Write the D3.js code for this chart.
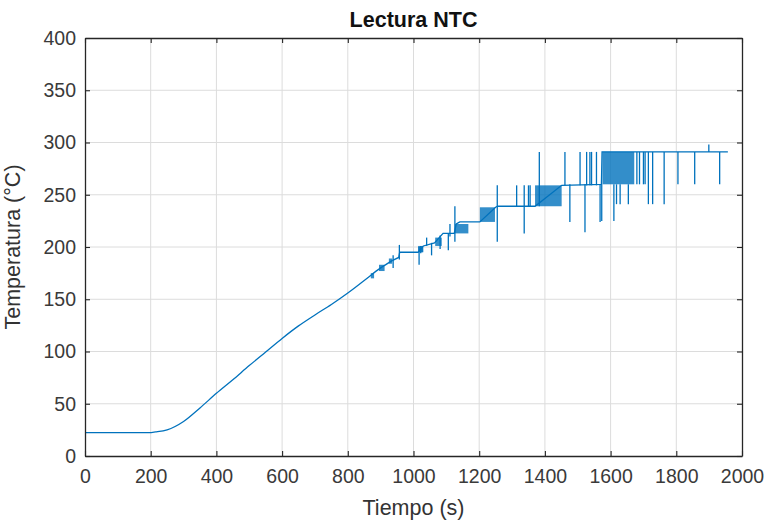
<!DOCTYPE html>
<html>
<head>
<meta charset="utf-8">
<script src="https://cdn.jsdelivr.net/npm/d3@7"></script>
<style>
	body { margin: 0; background: #fff; }
	text { font-family: Arial, "Liberation Sans", Helvetica, sans-serif; }
</style>
</head>
<body>
<svg id="chart" width="766" height="522"></svg>
<script>
// Warm-up part of the NTC reading (time in s, temperature in °C), smooth
var rampTime = [0, 195, 215, 250, 300, 350, 400, 450, 500, 550, 600, 650, 700, 750, 800, 850, 900, 935];
var rampTemp = [22.3, 22.3, 23, 25, 33, 46, 60, 73, 86.5, 99.5, 112.5, 124.5, 135, 145, 156, 168, 180, 187];

// Later part, where the ADC steps between quantised levels
var stepTime = [935, 955, 958, 1014, 1030, 1064, 1090, 1124, 1130, 1141, 1202, 1250, 1256, 1370, 1451, 1572, 1574, 1957];
var stepTemp = [187, 190, 195, 195, 201, 204, 213, 213, 222, 224, 224, 238, 239, 239, 259, 260, 291, 291];

// Single reading glitches, drawn as vertical strokes
var spikeTime = [938, 957, 1017, 1022, 1026, 1040, 1055, 1081, 1106, 1111, 1126, 1255, 1314, 1337, 1350, 1355,
	1383, 1461, 1476, 1507, 1522, 1527, 1537, 1542, 1557, 1568, 1573, 1610, 1618, 1629, 1654, 1680, 1688,
	1700, 1705, 1715, 1728, 1763, 1805, 1856, 1899, 1932];
var spikeLow = [180, 188, 183, 194, 195, 201, 192, 198, 197, 210, 205, 205, 239, 213, 239, 239,
	239, 259, 224, 259, 214, 259, 259, 259, 259, 224, 225, 225, 241, 241, 241, 260, 260,
	260, 260, 241, 241, 241, 260, 260, 291, 260];
var spikeHigh = [192, 202, 200, 201, 201, 209, 204, 211, 213, 222, 239, 259, 259, 259, 259, 259,
	291, 291, 260, 291, 260, 291, 291, 291, 291, 260, 260, 260, 260, 260, 260, 291, 291,
	291, 291, 291, 291, 291, 291, 291, 298, 291];

// Stretches where the reading toggles so fast the trace fills in
var bandStart = [870, 895, 925, 1014, 1066, 1126, 1202, 1370, 1575];
var bandEnd = [880, 912, 935, 1030, 1086, 1167, 1248, 1451, 1672];
var bandLow = [170, 177, 184, 195, 201, 213, 224, 239, 260];
var bandHigh = [175, 183, 189, 201, 209, 222, 238, 259, 291];

var xTicks = [0, 200, 400, 600, 800, 1000, 1200, 1400, 1600, 1800, 2000];
var yTicks = [0, 50, 100, 150, 200, 250, 300, 350, 400];

var LINE = '#0072bd';
var AXIS = '#262626';

function main() {
	var svg = d3.select('#chart');
	var margin = {left: 85, right: 766 - 742, top: 38, bottom: 522 - 456};
	var w = 766 - margin.left - margin.right;
	var h = 522 - margin.top - margin.bottom;

	var x = d3.scaleLinear().domain([0, 2000]).range([0, w]);
	var y = d3.scaleLinear().domain([0, 400]).range([h, 0]);

	var g = svg.append('g').attr('transform', 'translate(' + margin.left + ',' + margin.top + ')');

	// grid
	g.append('g').selectAll('line').data(xTicks.slice(1, -1)).enter().append('line')
		.attr('x1', function(d) { return x(d); }).attr('x2', function(d) { return x(d); })
		.attr('y1', 0).attr('y2', h)
		.attr('stroke', '#dcdcdc').attr('stroke-width', 1);
	g.append('g').selectAll('line').data(yTicks.slice(1, -1)).enter().append('line')
		.attr('y1', function(d) { return y(d); }).attr('y2', function(d) { return y(d); })
		.attr('x1', 0).attr('x2', w)
		.attr('stroke', '#dcdcdc').attr('stroke-width', 1);

	// data
	var bands = d3.range(bandStart.length).map(function(i) {
		return {t0: bandStart[i], t1: bandEnd[i], lo: bandLow[i], hi: bandHigh[i]};
	});
	g.append('g').selectAll('rect').data(bands).enter().append('rect')
		.attr('x', function(d) { return x(d.t0); })
		.attr('width', function(d) { return x(d.t1) - x(d.t0); })
		.attr('y', function(d) { return y(d.hi); })
		.attr('height', function(d) { return y(d.lo) - y(d.hi); })
		.attr('fill', LINE).attr('opacity', 0.8);

	var ramp = rampTime.map(function(t, i) { return [t, rampTemp[i]]; });
	var steps = stepTime.map(function(t, i) { return [t, stepTemp[i]]; });
	var smooth = d3.line().curve(d3.curveMonotoneX)
		.x(function(d) { return x(d[0]); }).y(function(d) { return y(d[1]); });
	var straight = d3.line().x(function(d) { return x(d[0]); }).y(function(d) { return y(d[1]); });
	g.append('path').datum(ramp).attr('d', smooth)
		.attr('fill', 'none').attr('stroke', LINE).attr('stroke-width', 1.3);
	g.append('path').datum(steps).attr('d', straight)
		.attr('fill', 'none').attr('stroke', LINE).attr('stroke-width', 1.3);

	var spikes = spikeTime.map(function(t, i) { return {t: t, lo: spikeLow[i], hi: spikeHigh[i]}; });
	g.append('g').selectAll('line').data(spikes).enter().append('line')
		.attr('x1', function(d) { return x(d.t); }).attr('x2', function(d) { return x(d.t); })
		.attr('y1', function(d) { return y(d.lo); }).attr('y2', function(d) { return y(d.hi); })
		.attr('stroke', LINE).attr('stroke-width', 1.3);

	// axes: box with inward ticks on all sides
	var fmt = d3.format('d');
	var bottom = g.append('g').attr('transform', 'translate(0,' + h + ')')
		.call(d3.axisBottom(x).tickValues(xTicks).tickFormat(fmt).tickSizeInner(-5).tickSizeOuter(0).tickPadding(13));
	var left = g.append('g')
		.call(d3.axisLeft(y).tickValues(yTicks).tickFormat(fmt).tickSizeInner(-5).tickSizeOuter(0).tickPadding(9));
	var top = g.append('g')
		.call(d3.axisTop(x).tickValues(xTicks).tickSizeInner(-5).tickSizeOuter(0).tickFormat(''));
	var right = g.append('g').attr('transform', 'translate(' + w + ',0)')
		.call(d3.axisRight(y).tickValues(yTicks).tickSizeInner(-5).tickSizeOuter(0).tickFormat(''));

	[bottom, left, top, right].forEach(function(a) {
		a.select('.domain').attr('stroke', AXIS).attr('stroke-width', 1.3);
		a.selectAll('.tick line').attr('stroke', AXIS).attr('stroke-width', 1.1);
		a.selectAll('.tick text').attr('fill', '#3a3a3a').style('font-size', '19.5px');
	});

	// labels
	svg.append('text').attr('x', margin.left + w / 2).attr('y', 27)
		.attr('text-anchor', 'middle').style('font-size', '21.5px').style('font-weight', 'bold')
		.attr('fill', '#111').text('Lectura NTC');
	svg.append('text').attr('x', margin.left + w / 2).attr('y', 515)
		.attr('text-anchor', 'middle').style('font-size', '21.5px')
		.attr('fill', '#333').text('Tiempo (s)');
	svg.append('text').attr('transform', 'translate(20,' + (margin.top + h / 2) + ') rotate(-90)')
		.attr('text-anchor', 'middle').style('font-size', '21.5px')
		.attr('fill', '#333').text('Temperatura (°C)');
}

main();
</script>
</body>
</html>
